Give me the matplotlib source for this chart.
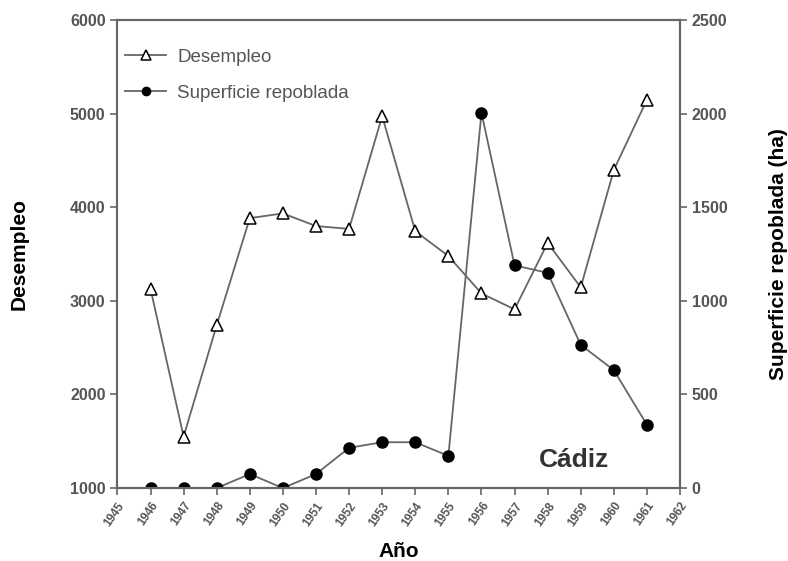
import matplotlib
matplotlib.use('Agg')
import matplotlib.pyplot as plt

plt.rcParams['font.family'] = ['Liberation Sans', 'DejaVu Sans']

# --- Datos ---
anios = [1946, 1947, 1948, 1949, 1950, 1951, 1952, 1953,
         1954, 1955, 1956, 1957, 1958, 1959, 1960, 1961]
desempleo = [3130, 1550, 2740, 3885, 3935, 3800, 3770, 4975,
             3745, 3480, 3080, 2910, 3620, 3145, 4400, 5150]
superficie = [0, 0, 0, 75, 0, 75, 215, 245,
              245, 172, 2005, 1190, 1150, 765, 630, 338]
ticks_x = list(range(1945, 1963))

gris = '#666666'
gris_txt = '#555555'

fig = plt.figure(figsize=(7.88, 5.61), dpi=100)
ax = fig.add_axes([0.149, 0.130, 0.714, 0.834])
ax2 = ax.twinx()

l1, = ax.plot(anios, desempleo, color=gris, lw=1.3, marker='^', ms=9,
              mfc='white', mec='black', mew=1.1, label='Desempleo')
l2, = ax2.plot(anios, superficie, color=gris, lw=1.3, marker='o', ms=8,
               mfc='black', mec='black', label='Superficie repoblada')

ax.set_xlim(1945, 1962)
ax.set_ylim(1000, 6000)
ax2.set_ylim(0, 2500)
ax.set_xticks(ticks_x)
ax.set_xticklabels([str(t) for t in ticks_x], rotation=55, ha='right',
                   rotation_mode='anchor', fontsize=8.5, color=gris_txt, fontweight='bold')
ax.set_yticks(range(1000, 6001, 1000))
ax2.set_yticks(range(0, 2501, 500))
for a in (ax, ax2):
    a.tick_params(axis='y', labelsize=11.5, labelcolor=gris_txt, direction='out',
                  length=5, color=gris, width=1.2)
    for lab in a.get_yticklabels():
        lab.set_fontweight('bold')
    for s in a.spines.values():
        s.set_color(gris)
        s.set_linewidth(1.5)
ax.tick_params(axis='x', direction='out', length=5, color=gris, width=1.2)

ax.set_xlabel('Año', fontsize=15, fontweight='bold', labelpad=10)
ax.set_ylabel('Desempleo', fontsize=15, fontweight='bold', labelpad=30)
ax2.set_ylabel('Superficie repoblada (ha)', fontsize=15, fontweight='bold', labelpad=30)

ax.text(1958.8, 1300, 'Cádiz', fontsize=19, fontweight='bold', color='#333333',
        ha='center', va='center')

leg = ax.legend(handles=[l1, l2], loc='upper left', frameon=False, fontsize=13.5,
                labelcolor=gris_txt, handlelength=2.2, borderaxespad=0.0,
                bbox_to_anchor=(0.0, 0.955), labelspacing=1.0, markerscale=0.75,
                handletextpad=0.6)

fig.savefig('out.png', dpi=100)
